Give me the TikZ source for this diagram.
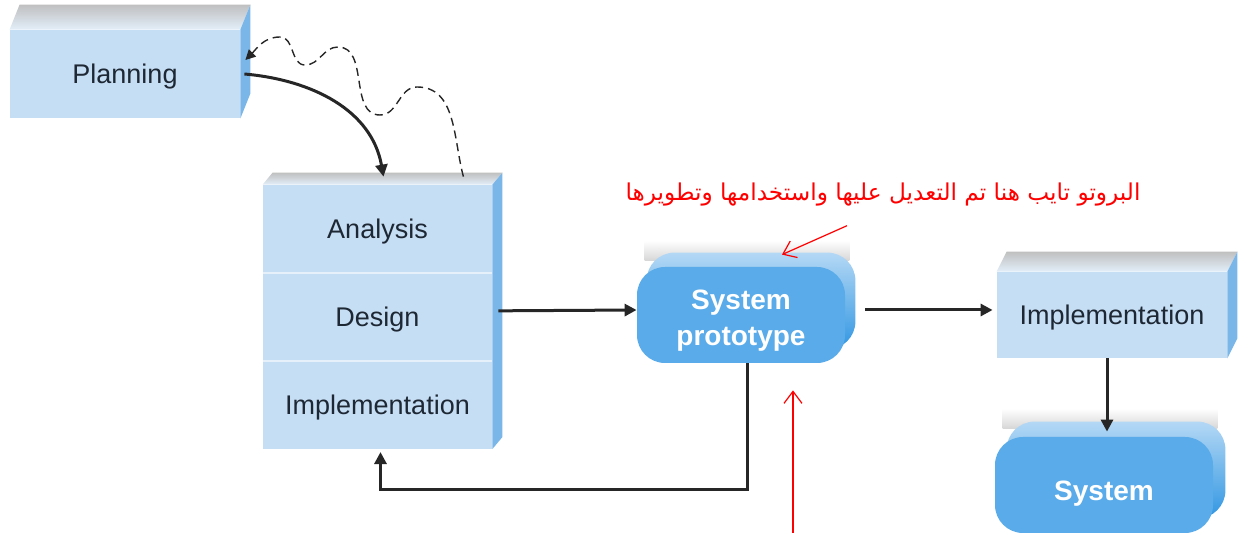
\documentclass[tikz,border=0pt]{standalone}
\usepackage{fontspec}
\setmainfont{Liberation Sans}
\newfontfamily\arabicfont[Script=Arabic]{DejaVu Sans}
\TeXXeTstate=1
\usetikzlibrary{positioning,arrows.meta,backgrounds}

\definecolor{facefront}{RGB}{198,222,244}
\definecolor{faceside}{RGB}{122,182,232}
\definecolor{pillfront}{RGB}{90,171,233}
\definecolor{pillside}{RGB}{48,150,226}
\definecolor{pilltop}{RGB}{180,216,245}
\definecolor{labeltext}{RGB}{30,40,52}

\tikzset{
  slab/.style={fill=facefront, minimum width=115pt, minimum height=48pt, inner sep=0pt,
    text depth=0pt, text=labeltext, font=\fontsize{13.5}{16}\selectfont},
  pill/.style={fill=pillfront, rounded corners=14pt, minimum width=104pt, minimum height=48pt,
    inner sep=0pt, align=center, text=white, font=\bfseries\fontsize{14}{18}\selectfont},
  sideface/.style={fill=faceside},
  topface/.style={top color=black!25, bottom color=facefront!50!white},
  pillshadow/.style={top color=white, bottom color=black!16},
  pillback/.style={top color=pilltop, bottom color=pillside, rounded corners=14pt},
  flow/.style={draw=black!85, line width=1.5pt, -{Triangle[length=6pt,width=6pt]}},
  pointer/.style={draw=red, line width=0.6pt, -{Straight Barb[length=6pt,width=9pt]}},
  note/.style={text=red, font=\arabicfont\fontsize{11.6}{13}\selectfont},
}

\begin{document}
\begin{tikzpicture}[x=0.5pt,y=-0.5pt]
\useasboundingbox (0,0) rectangle (1255,539);

%% Boxes
\node[slab, minimum height=44pt] (planning) at (125,74) {Planning};

\node[slab, minimum width=114.5pt, minimum height=43.67pt] (analysis) at (377.5,228.7) {Analysis};
\node[slab, minimum width=114.5pt, minimum height=43.67pt, below=0pt of analysis] (design) {Design};
\node[slab, minimum width=114.5pt, minimum height=43.67pt, below=0pt of design] (impl) {Implementation};

\node[pill] (proto) at (741,315) {\rule{0pt}{15pt}System\\prototype};

\node[slab, minimum height=43pt] (implR) at (1112,315) {Implementation};

\node[pill, minimum width=109pt] (sys) at (1104,485) {\rule{0pt}{18pt}System};

% dividers of the stack
\draw[white!55!facefront, line width=0.8pt] (analysis.south west) -- (analysis.south east);
\draw[white!55!facefront, line width=0.8pt] (design.south west) -- (design.south east);

%% 3D faces
\begin{scope}[on background layer]
% Planning
\shade[topface] (planning.north west) -- ++(10,-25) -- ([shift={(10,-25)}]planning.north east) -- (planning.north east) -- cycle;
\fill[sideface] (planning.north east) -- ++(10,-25) -- ([shift={(10,-25)}]planning.south east) -- (planning.south east) -- cycle;

% stack
\shade[topface] (analysis.north west) -- ++(10,-12) -- ([shift={(10,-12)}]analysis.north east) -- (analysis.north east) -- cycle;
\fill[sideface] (analysis.north east) -- ++(10,-12) -- ([shift={(10,-12)}]impl.south east) -- (impl.south east) -- cycle;

% right Implementation
\shade[topface] (implR.north west) -- ++(10,-20) -- ([shift={(10,-20)}]implR.north east) -- (implR.north east) -- cycle;
\fill[sideface] (implR.north east) -- ++(10,-20) -- ([shift={(10,-20)}]implR.south east) -- (implR.south east) -- cycle;

% System prototype
\shade[pillshadow] ([shift={(8,-26)}]proto.north west) rectangle ([shift={(4,-6)}]proto.north east);
\shade[pillback] ([shift={(10,-14)}]proto.south west) rectangle ([shift={(10,-14)}]proto.north east);

% System
\shade[pillshadow] ([shift={(8,-28)}]sys.north west) rectangle ([shift={(4,-8)}]sys.north east);
\shade[pillback] ([shift={(12,-15)}]sys.south west) rectangle ([shift={(12,-15)}]sys.north east);
\end{scope}

%% Connectors
\draw[flow] ([xshift=2pt]planning.east) to[out=-5,in=100] ([xshift=3pt,yshift=4pt]analysis.north);

\draw[flow, line width=0.7pt, dash pattern=on 4pt off 2.5pt, -{Triangle[length=5pt,width=5pt]}]
  ([xshift=-14.5pt,yshift=4pt]analysis.north east) to[out=105,in=0] (417,87)
  to[out=180,in=0] (380,115) to[out=180,in=0] (338,47)
  to[out=180,in=0] (305,65) to[out=180,in=0] (280,37)
  to[out=180,in=45] ([xshift=2.5pt,yshift=7pt]planning.east);

\draw[flow] ([xshift=3pt,yshift=3pt]design.east) -- ([yshift=2.5pt]proto.west);
\draw[flow] ([xshift=10pt,yshift=2.5pt]proto.east) -- ([xshift=-2pt,yshift=2.5pt]implR.west);
\draw[flow] ([xshift=-2.5pt]implR.south) -- ([xshift=-2.5pt,yshift=2.5pt]implR.south |- sys.north);

% back to the stack
\coordinate (fb) at (747,490);
\draw[flow] ([xshift=3pt]proto.south) |- (fb) -| ([xshift=1.5pt,yshift=-1.5pt]impl.south);

%% Remark
\node[note] (remark) at (883,195) {\beginR البروتو تايب هنا تم التعديل عليها واستخدامها وتطويرها\endR};
\draw[pointer] ([xshift=-18pt,yshift=-6pt]remark.south) -- ([xshift=20.5pt,yshift=6pt]proto.north);

\coordinate (redfoot) at (793,533);
\draw[pointer] (redfoot) -- ([xshift=26pt,yshift=-13.5pt]proto.south);

\end{tikzpicture}
\end{document}
